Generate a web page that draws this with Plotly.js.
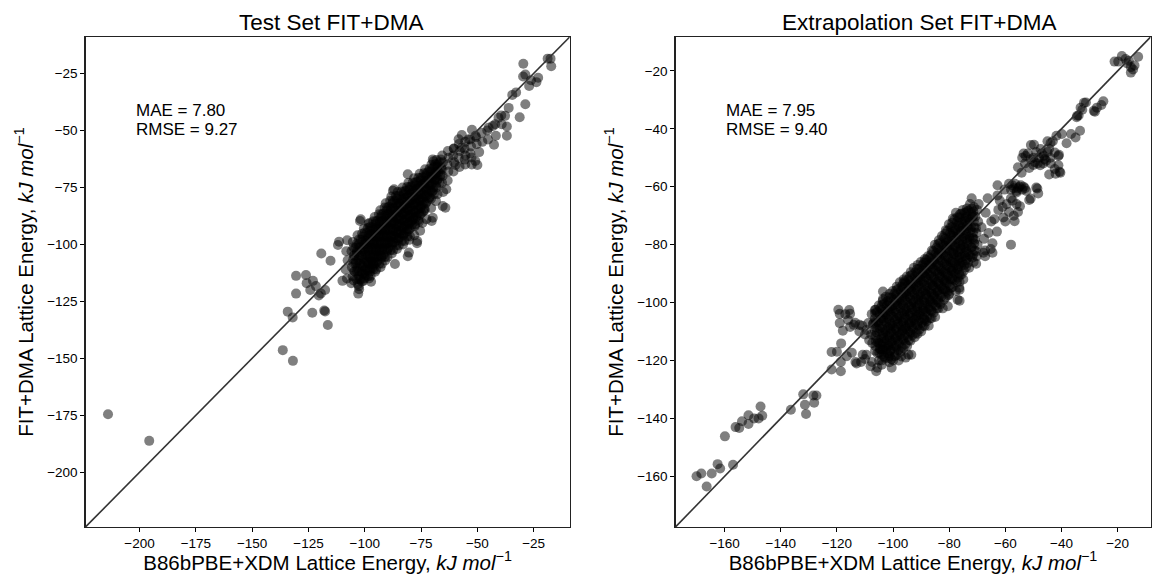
<!DOCTYPE html>
<html>
<head>
<meta charset="utf-8">
<script src="https://cdn.plot.ly/plotly-3.0.1.min.js"></script>
<style>html,body{margin:0;padding:0;background:#fff;}#chart{width:1156px;height:574px;}</style>
</head>
<body>
<div id="chart"></div>
<script>
// ---------------- data ----------------
const panelTitles = ["Test Set FIT+DMA", "Extrapolation Set FIT+DMA"];
const statsTest = ["MAE = 7.80", "RMSE = 9.27"];
const statsExtrap = ["MAE = 7.95", "RMSE = 9.40"];
const testTicks = [-200, -175, -150, -125, -100, -75, -50, -25];
const extrapTicks = [-160, -140, -120, -100, -80, -60, -40, -20];
const testRange = [-224, -9];
const extrapRange = [-177.5, -8.3];

// Test set: [B86bPBE+XDM, FIT+DMA] (kJ/mol)
const testPairs = [
[-214,-174.5],[-195.7,-186.2],[-136.4,-146.4],[-131.9,-151.1],[-134.2,-129.5],[-132,-132.1],[-130.5,-113.8],[-130.5,-121.6],
[-123.3,-130],[-118,-129],[-117.6,-129.4],[-116.4,-135.4],[-125.8,-117],[-124.2,-120],[-121.7,-118.3],[-120.4,-122.4],
[-117.6,-120],[-126.1,-113.4],[-123,-116],[-119.5,-121.5],[-119.3,-104],[-115.2,-107.2],[-111.9,-100.3],[-111.4,-98.8],
[-107.8,-98.2],[-102.1,-89.7],[-101.8,-89],[-98,-90.6],[-102.9,-121.6],[-102.5,-119.7],[-97.2,-116.4],[-109.9,-116],
[-96.4,-108.6],[-86.6,-108.6],[-80.9,-105.2],[-80.4,-103.6],[-76.8,-99.5],[-76.7,-98.5],[-74.4,-90.6],[-70.3,-89.7],
[-69.8,-88.3],[-65.4,-83.2],[-64.2,-83.9],[-63.8,-75.8],[-87.5,-76.5],[-87,-75.8],[-80.9,-69.2],[-69.5,-63.5],[-69.8,-62.7],
[-60.5,-57.9],[-59.7,-65.2],[-55.6,-62.8],[-55.4,-64.9],[-52.5,-64.9],[-52.6,-61.9],[-57,-57.6],[-53.9,-53.9],[-58.3,-53.9],
[-52.4,-49.7],[-50.8,-52.3],[-49.2,-59.5],[-50,-65.2],[-50.9,-63.4],[-42.6,-56.3],[-41.8,-52.3],[-36.9,-48.3],[-36.9,-52.3],
[-39.4,-43.4],[-39.2,-47.3],[-36.1,-40.1],[-37.7,-43.6],[-40.6,-44.4],[-42.1,-47.3],[-45,-48.8],[-56.9,-52],[-31.2,-44.2],
[-34.5,-34.4],[-32.8,-33.3],[-28.7,-38.5],[-29.6,-20.7],[-28.7,-25.5],[-26.2,-28],[-23.8,-28.8],[-23,-26.9],[-29.7,-26.3],
[-18.8,-18.5],[-17.2,-21.8],[-17.5,-18.5],[-27,-30.5],
[-108.2,-103],[-107.6,-107],[-108.5,-111],[-107.9,-115],
[-105.3,-99],[-105.9,-103],[-105.1,-106.5],[-105.7,-110],[-105.4,-114],[-106,-117],
[-103.2,-96],[-102.7,-100],[-103.5,-103],[-102.9,-107],[-103.3,-110.5],[-102.6,-114],[-103.1,-117.5],
[-100.4,-93],[-100.9,-96.5],[-100.2,-100],[-100.7,-103],[-100.3,-106.5],[-100.8,-110],[-100.1,-113],[-100.6,-116],
[-98.3,-91],[-97.7,-94],[-98.5,-97],[-97.9,-100],[-98.2,-103],[-97.6,-106],[-98.4,-109],[-97.8,-112],[-98.1,-115],
[-95.6,-88],[-95.2,-91],[-95.8,-94],[-95.3,-97],[-95.7,-100],[-95.1,-103],[-95.5,-106],[-95.9,-109],[-95.4,-112],
[-93.1,-85],[-92.8,-88],[-93.4,-91],[-92.7,-94],[-93.2,-97],[-92.9,-100],[-93.3,-103],[-92.6,-106],[-93,-110],
[-90.7,-82],[-90.2,-85],[-90.6,-88],[-90.3,-91],[-90.8,-94],[-90.4,-97],[-90.5,-100],[-90.1,-103],[-90.9,-107],
[-88.2,-79],[-87.7,-82],[-88.4,-85],[-87.9,-88],[-88.1,-91],[-87.6,-94],[-88.3,-97],[-87.8,-100],[-88,-104],
[-85.4,-77],[-85.8,-80],[-85.2,-83],[-85.6,-86],[-85.3,-89],[-85.9,-92],[-85.5,-95],[-85.1,-98],[-85.7,-102],
[-83.2,-75],[-82.7,-78],[-83.4,-81],[-82.9,-84],[-83.1,-87],[-82.6,-90],[-83.3,-93],[-82.8,-96],[-83,-100],
[-80.6,-73],[-80.2,-76],[-80.8,-79],[-80.4,-82],[-80.7,-85],[-80.1,-88],[-80.5,-91],[-80.9,-94],[-80.3,-98],
[-78.1,-71],[-77.7,-74],[-78.3,-77],[-77.9,-80],[-78.2,-83],[-77.6,-86],[-78.4,-89],[-77.8,-92],[-78,-96],
[-75.6,-69],[-75.2,-72],[-75.8,-75],[-75.3,-78],[-75.7,-81],[-75.1,-84],[-75.5,-87],[-75.9,-90],[-75.4,-94],
[-73.2,-67],[-72.8,-70],[-73.3,-73],[-72.7,-76],[-73.1,-79],[-72.9,-82],[-73.4,-85],[-72.6,-89],
[-70.4,-65],[-70.8,-68],[-70.3,-71],[-70.7,-74],[-70.2,-77],[-70.6,-80],[-70.5,-84],
[-68.2,-63],[-67.8,-66],[-68.3,-69],[-67.9,-72],[-68.1,-75],[-67.7,-78],[-68.4,-81],
[-65.6,-61],[-65.3,-64],[-65.8,-67],[-65.4,-70],[-65.7,-73],[-65.2,-77],
[-63.1,-59],[-62.8,-62],[-63.3,-65],[-62.9,-68],[-63.2,-72],
[-60.4,-58],[-60.7,-61],[-60.3,-64],[-60.6,-68],
[-58.2,-56],[-57.8,-59],[-58.3,-62],[-57.9,-66],
[-55.4,-55],[-55.7,-58],[-55.3,-61],
[-53.2,-54],[-52.8,-57],[-53.1,-60],
[-50.6,-53],[-50.3,-56],[-48.1,-51],[-47.8,-55],[-45.6,-50],[-45.3,-54],[-43.1,-48],
[-104.2,-101.5],[-104.5,-105],[-104.1,-108.5],[-104.4,-112],
[-101.7,-98],[-102,-101.5],[-101.6,-105],[-101.9,-108.5],[-101.5,-112],[-101.8,-115.5],
[-99.2,-95],[-99.5,-98.5],[-99.1,-101.5],[-99.4,-104.5],[-99,-107.5],[-99.3,-110.5],[-99.6,-113.5],
[-96.7,-92.5],[-96.9,-95.5],[-96.6,-98.5],[-96.8,-101.5],[-96.5,-104.5],[-96.9,-107.5],[-96.7,-110.5],
[-94.2,-89.5],[-94.4,-92.5],[-94.1,-95.5],[-94.5,-98.5],[-94.3,-101.5],[-94,-104.5],[-94.4,-107.5],
[-91.7,-86.5],[-91.9,-89.5],[-91.6,-92.5],[-91.8,-95.5],[-91.5,-98.5],[-91.9,-101.5],[-91.7,-104.5],
[-89.2,-83.5],[-89.4,-86.5],[-89.1,-89.5],[-89.5,-92.5],[-89.3,-95.5],[-89,-98.5],[-89.4,-101.5],
[-86.7,-81],[-86.9,-84],[-86.6,-87],[-86.8,-90],[-86.5,-93],[-86.9,-96],[-86.7,-99],
[-84.2,-79],[-84.4,-82],[-84.1,-85],[-84.5,-88],[-84.3,-91],[-84,-94],[-84.4,-97],
[-81.7,-76.5],[-81.9,-79.5],[-81.6,-82.5],[-81.8,-85.5],[-81.5,-88.5],[-81.9,-91.5],[-81.7,-94.5],
[-79.2,-74.5],[-79.4,-77.5],[-79.1,-80.5],[-79.5,-83.5],[-79.3,-86.5],[-79,-89.5],[-79.4,-92.5],
[-76.7,-72.5],[-76.9,-75.5],[-76.6,-78.5],[-76.8,-81.5],[-76.5,-84.5],[-76.9,-87.5],
[-74.2,-70.5],[-74.4,-73.5],[-74.1,-76.5],[-74.5,-79.5],[-74.3,-82.5],[-74,-85.5],
[-71.7,-68],[-71.9,-71],[-71.6,-74],[-71.8,-77],[-71.5,-80],
[-69.2,-66],[-69.4,-69],[-69.1,-72],[-69.5,-75],[-69.3,-78],
[-66.7,-64],[-66.9,-67],[-66.6,-70],[-66.8,-73],
[-103.7,-99.8],[-103.5,-103.8],[-103.8,-107.8],[-103.4,-111.8],[-103.6,-115.3],
[-101.2,-95.3],[-101,-98.8],[-101.3,-102.3],[-100.9,-105.8],[-101.2,-109.3],[-101,-112.8],[-101.3,-116.3],
[-98.7,-92.8],[-98.5,-96.3],[-98.8,-99.3],[-98.4,-102.3],[-98.7,-105.3],[-98.5,-108.3],[-98.8,-111.3],[-98.6,-114],
[-96.2,-89.8],[-96,-93.3],[-96.3,-96.3],[-95.9,-99.3],[-96.2,-102.3],[-96,-105.3],[-96.3,-108.3],[-96.1,-111],
[-93.7,-86.8],[-93.5,-90.3],[-93.8,-93.3],[-93.4,-96.3],[-93.7,-99.3],[-93.5,-102.3],[-93.8,-105.3],[-93.6,-108.5],
[-91.2,-83.8],[-91,-87.3],[-91.3,-90.3],[-90.9,-93.3],[-91.2,-96.3],[-91,-99.3],[-91.3,-102.3],[-91.1,-105.5],
[-88.7,-80.8],[-88.5,-84.3],[-88.8,-87.3],[-88.4,-90.3],[-88.7,-93.3],[-88.5,-96.3],[-88.8,-99.3],[-88.6,-102.5],
[-86.2,-78.8],[-86,-82.3],[-86.3,-85.3],[-85.9,-88.3],[-86.2,-91.3],[-86,-94.3],[-86.3,-97.3],[-86.1,-100.5],
[-83.7,-76.8],[-83.5,-80.3],[-83.8,-83.3],[-83.4,-86.3],[-83.7,-89.3],[-83.5,-92.3],[-83.8,-95.3],[-83.6,-98.5],
[-81.2,-74.8],[-81,-78.3],[-81.3,-81.3],[-80.9,-84.3],[-81.2,-87.3],[-81,-90.3],[-81.3,-93.3],[-81.1,-96.5],
[-78.7,-72.8],[-78.5,-76.3],[-78.8,-79.3],[-78.4,-82.3],[-78.7,-85.3],[-78.5,-88.3],[-78.8,-91.3],
[-76.2,-70.8],[-76,-74.3],[-76.3,-77.3],[-75.9,-80.3],[-76.2,-83.3],[-76,-86.3],[-76.3,-89.3],
[-73.7,-68.8],[-73.5,-72.3],[-73.8,-75.3],[-73.4,-78.3],[-73.7,-81.3],[-73.5,-84.3],
[-71.2,-66.8],[-71,-70.3],[-71.3,-73.3],[-70.9,-76.3],[-71.2,-79.3],
[-68.7,-64.8],[-68.5,-68.3],[-68.8,-71.3],[-68.4,-74.3],
[-66.2,-62.8],[-66,-66.3],[-66.3,-69.3],
[-105,-101.3],[-104.8,-104.8],[-105.1,-108.3],[-104.7,-111.8],[-104.9,-115.8],
[-102.5,-97.8],[-102.3,-101.3],[-102.6,-104.8],[-102.2,-108.3],[-102.5,-111.8],[-102.3,-115.3],[-102.6,-118.3],
[-100,-94.8],[-99.8,-98.3],[-100.1,-101.8],[-99.7,-104.8],[-100,-108.3],[-99.8,-111.5],[-100.1,-114.8],
[-97.5,-92.3],[-97.3,-95.8],[-97.6,-98.8],[-97.2,-101.8],[-97.5,-104.8],[-97.3,-107.8],[-97.6,-110.8],[-97.4,-113.8],
[-95,-89.8],[-94.8,-93.3],[-95.1,-96.3],[-94.7,-99.3],[-95,-102.3],[-94.8,-105.3],[-95.1,-108.3],[-94.9,-111],
[-92.5,-86.8],[-92.3,-90.3],[-92.6,-93.3],[-92.2,-96.3],[-92.5,-99.3],[-92.3,-102.3],[-92.6,-105.3],[-92.4,-108.5],
[-90,-83.8],[-89.8,-87.3],[-90.1,-90.3],[-89.7,-93.3],[-90,-96.3],[-89.8,-99.3],[-90.1,-102.3],[-89.9,-105.5],
[-87.5,-80.8],[-87.3,-84.3],[-87.6,-87.3],[-87.2,-90.3],[-87.5,-93.3],[-87.3,-96.3],[-87.6,-99.3],[-87.4,-102.5],
[-85,-78.8],[-84.8,-82.3],[-85.1,-85.3],[-84.7,-88.3],[-85,-91.3],[-84.8,-94.3],[-85.1,-97.3],[-84.9,-100.5],
[-82.5,-76.8],[-82.3,-80.3],[-82.6,-83.3],[-82.2,-86.3],[-82.5,-89.3],[-82.3,-92.3],[-82.6,-95.3],[-82.4,-98.5],
[-80,-74.8],[-79.8,-78.3],[-80.1,-81.3],[-79.7,-84.3],[-80,-87.3],[-79.8,-90.3],[-80.1,-93.3],[-79.9,-96.5],
[-77.5,-72.8],[-77.3,-76.3],[-77.6,-79.3],[-77.2,-82.3],[-77.5,-85.3],[-77.3,-88.3],[-77.6,-91.3],
[-75,-70.8],[-74.8,-74.3],[-75.1,-77.3],[-74.7,-80.3],[-75,-83.3],[-74.8,-86.3],
[-72.5,-68.8],[-72.3,-72.3],[-72.6,-75.3],[-72.2,-78.3],[-72.5,-81.3],
[-70,-66.8],[-69.8,-70.3],[-70.1,-73.3],[-69.7,-76.3],
[-67.5,-64.8],[-67.3,-68.3],[-67.6,-71.3]
];

// Extrapolation set: [B86bPBE+XDM, FIT+DMA] (kJ/mol)
const extrapPairs = [
[-170,-160],[-168.3,-159],[-166.4,-163.5],[-164.6,-159],[-162.5,-155.8],[-161.6,-157.3],[-159.9,-146.2],[-157,-156],
[-156.1,-143],[-154.8,-143.3],[-153.8,-141],[-151.5,-138.9],[-151.5,-141.9],[-149.5,-140],[-147.2,-135.9],[-146.6,-139.1],
[-147.9,-140],[-136.4,-137],[-132,-131.7],[-131.4,-135.3],[-131,-138.5],[-128.1,-134.6],[-127.3,-132.1],[-128.4,-132.1],
[-121.9,-117.1],[-121.9,-123.1],[-119,-103.9],[-119,-107.1],[-118.5,-114.1],[-118.6,-120.5],[-118.6,-123.7],[-115.6,-102.6],
[-115.3,-103.9],[-115.3,-108.4],[-117.9,-109.7],[-114.7,-117.3],[-113.4,-120.5],[-111.4,-120.5],[-110.8,-118],[-114,-107.7],
[-112,-107.7],[-109.5,-118],[-107.5,-120.5],[-106,-123.7],[-105.6,-122.5],[-104.9,-117.3],[-107,-107.1],[-108.8,-107.1],
[-106.5,-102.6],[-103.6,-96.2],[-103.6,-98.8],[-101.7,-119.3],[-101,-116.7],[-97.1,-118.6],[-94.5,-118],[-104.9,-114.1],
[-103.6,-116.1],[-119.5,-102.5],[-117,-104],[-116,-106],[-113.5,-107],[-111,-108],[-109.5,-109.5],[-110,-111],[-112,-110],
[-108.5,-113],[-120,-117],[-116.5,-118.5],[-113,-121],[-110,-119.5],[-108,-122],[-104,-121.5],[-100.5,-122.5],[-98,-120],
[-95.5,-119],[-93.5,-118],[-95.9,-92.6],[-88.2,-86.2],[-77,-99],[-76.4,-94.9],[-80.5,-101.3],[-80.2,-97.5],[-76.3,-95.6],
[-76.3,-99.4],[-58,-80],[-70.4,-86.6],[-67.2,-84],[-65.2,-81.5],[-64.6,-79.5],[-64.6,-82.8],[-67.8,-82.8],
[-72,-64],[-69.5,-66],[-67,-69],[-65,-72],[-68.5,-74],[-66,-76],[-63,-75.5],
[-63.9,-71.2],[-62,-64.8],[-60.7,-70.6],[-58.7,-68.7],[-56.7,-71.9],[-55.5,-68.7],[-54.8,-66.7],[-57.4,-64.8],
[-62.8,-59.5],[-62.8,-63],[-66.3,-64],[-61,-67],[-59.5,-66],[-58,-64],[-56,-66],[-62.5,-68],[-60,-72],[-57,-70],
[-58,-61],[-60.3,-61],[-58.7,-59],[-57,-60.5],[-56,-61.5],[-55,-60],[-54,-61],[-53,-60.5],[-57.5,-59.5],[-56.5,-59],
[-55.5,-60.5],[-54.5,-59.5],[-53.5,-60],[-56,-62],[-52.5,-61.5],[-51.5,-64.6],[-51,-64.1],[-49,-60.3],[-48.6,-60.6],[-48.3,-62.3],
[-54.2,-55.2],[-55.5,-53.3],[-52.8,-49.4],[-49.8,-45.5],[-50.9,-45.6],[-47.6,-52.6],[-46.3,-49.4],[-44.4,-46.9],
[-54,-50],[-53,-52],[-52,-48.5],[-51,-50.5],[-50,-52.5],[-49,-48],[-48,-50],[-47,-48.5],[-46,-50.5],[-45,-48],[-44,-50],
[-48.5,-52],[-46.5,-52],[-45.5,-51],[-47.5,-47],[-50,-50],[-49.5,-51.5],[-51.5,-53.5],[-53.5,-48.5],
[-42.4,-48.2],[-41.1,-49.4],[-40.9,-49],[-40.7,-54.8],[-42.1,-55.5],[-41.1,-52.6],[-43.8,-52],[-42.4,-53.9],[-40.4,-55.2],[-44.4,-55.8],
[-45,-44.3],[-43.9,-44.9],[-43.1,-44.3],[-41.8,-42.4],[-39.9,-41.8],[-38.2,-45],[-36.6,-41.8],[-35,-43],[-33.4,-40.7],
[-34.6,-36],[-33.9,-35.4],[-34.4,-35.5],[-33.2,-32.7],[-32,-31],[-32.6,-33.4],[-31.3,-30.9],[-28.1,-34.1],[-28.5,-33.8],[-27.4,-32.7],
[-25.8,-31.8],[-25.1,-30.5],[-21.1,-16.8],[-19.8,-16.8],[-18.5,-14.9],[-17.2,-15.9],[-16.6,-17.4],[-15.3,-18.7],
[-15.3,-20.6],[-14,-18.1],[-12.7,-15.1],[-16,-16.5],[-14.5,-19.5],
[-107.6,-104],[-107.2,-107.5],[-107.8,-111],[-107.4,-114],
[-105.1,-101],[-104.8,-104],[-105.3,-107],[-104.9,-110],[-105.2,-113],[-104.7,-116],[-105,-120],
[-102.6,-98],[-102.2,-101],[-102.8,-104],[-102.4,-107],[-102.7,-110],[-102.3,-113],[-102.5,-116],[-102.9,-119],
[-100.1,-96],[-99.7,-99],[-100.3,-102],[-99.9,-105],[-100.2,-108],[-99.8,-111],[-100.4,-114],[-99.6,-117],[-100,-120],
[-97.6,-93],[-97.2,-96],[-97.8,-99],[-97.4,-102],[-97.7,-105],[-97.1,-108],[-97.5,-111],[-97.9,-114],[-97.3,-117],
[-95.1,-91],[-94.7,-94],[-95.3,-97],[-94.9,-100],[-95.2,-103],[-94.6,-106],[-95.4,-109],[-94.8,-112],[-95,-115],
[-92.6,-88],[-92.2,-91],[-92.8,-94],[-92.4,-97],[-92.7,-100],[-92.1,-103],[-92.5,-106],[-92.9,-109],[-92.3,-112],
[-90.1,-86],[-89.7,-89],[-90.3,-92],[-89.9,-95],[-90.2,-98],[-89.6,-101],[-90.4,-104],[-89.8,-107],[-90,-110],
[-87.6,-84],[-87.2,-87],[-87.8,-90],[-87.4,-93],[-87.7,-96],[-87.1,-99],[-87.5,-102],[-87.9,-105],[-87.3,-108],
[-85.1,-80],[-84.7,-83],[-85.3,-86],[-84.9,-89],[-85.2,-92],[-84.6,-95],[-85.4,-98],[-84.8,-101],[-85,-105],
[-82.6,-77],[-82.2,-80],[-82.8,-83],[-82.4,-86],[-82.7,-89],[-82.1,-92],[-82.5,-95],[-82.9,-98],[-82.3,-102],
[-80.1,-73],[-79.7,-76],[-80.3,-79],[-79.9,-82],[-80.2,-85],[-79.6,-88],[-80.4,-91],[-79.8,-94],[-80,-97],
[-77.6,-69],[-77.2,-72],[-77.8,-75],[-77.4,-78],[-77.7,-81],[-77.1,-84],[-77.5,-87],[-77.9,-90],[-77.3,-93],[-77.6,-96],
[-75.1,-68],[-74.7,-71],[-75.3,-74],[-74.9,-77],[-75.2,-80],[-74.6,-83],[-75.4,-86],[-74.8,-89],[-75,-92],
[-72.6,-66],[-72.2,-69],[-72.8,-72],[-72.4,-75],[-72.7,-78],[-72.1,-81],[-72.5,-84],[-72.9,-88],
[-70.1,-68],[-69.7,-72],[-70.3,-76],[-69.9,-80],[-70.2,-84],[-67.6,-78],[-67.2,-82],
[-106.2,-102.5],[-106.5,-105.5],[-106.1,-108.5],[-106.4,-111.5],[-106.3,-115],
[-103.7,-99.5],[-104,-102.5],[-103.6,-105.5],[-103.9,-108.5],[-103.5,-111.5],[-103.8,-114.5],[-104.1,-118],
[-101.2,-97],[-101.5,-100],[-101.1,-103],[-101.4,-106],[-101,-109],[-101.3,-112],[-101.6,-115],[-101.2,-118.5],
[-98.7,-94.5],[-99,-97.5],[-98.6,-100.5],[-98.9,-103.5],[-98.5,-106.5],[-98.8,-109.5],[-99.1,-112.5],[-98.7,-115.5],
[-96.2,-92],[-96.5,-95],[-96.1,-98],[-96.4,-101],[-96,-104],[-96.3,-107],[-96.6,-110],[-96.2,-113],
[-93.7,-89.5],[-94,-92.5],[-93.6,-95.5],[-93.9,-98.5],[-93.5,-101.5],[-93.8,-104.5],[-94.1,-107.5],[-93.7,-110.5],
[-91.2,-87],[-91.5,-90],[-91.1,-93],[-91.4,-96],[-91,-99],[-91.3,-102],[-91.6,-105],[-91.2,-108],
[-88.7,-85],[-89,-88],[-88.6,-91],[-88.9,-94],[-88.5,-97],[-88.8,-100],[-89.1,-103],[-88.7,-106],
[-86.2,-82],[-86.5,-85],[-86.1,-88],[-86.4,-91],[-86,-94],[-86.3,-97],[-86.6,-100],[-86.2,-103],
[-83.7,-78.5],[-84,-81.5],[-83.6,-84.5],[-83.9,-87.5],[-83.5,-90.5],[-83.8,-93.5],[-84.1,-96.5],[-83.7,-100],
[-81.2,-75],[-81.5,-78],[-81.1,-81],[-81.4,-84],[-81,-87],[-81.3,-90],[-81.6,-93],[-81.2,-96],
[-78.7,-71],[-79,-74],[-78.6,-77],[-78.9,-80],[-78.5,-83],[-78.8,-86],[-79.1,-89],[-78.7,-92],
[-76.2,-69.5],[-76.5,-72.5],[-76.1,-75.5],[-76.4,-78.5],[-76,-81.5],[-76.3,-84.5],[-76.6,-87.5],[-76.2,-90.5],
[-73.7,-67.5],[-74,-70.5],[-73.6,-73.5],[-73.9,-76.5],[-73.5,-79.5],[-73.8,-82.5],[-74.1,-85.5],
[-71.2,-67],[-71.5,-70],[-71.1,-74],[-71.4,-78],[-71,-82],[-71.3,-86],
[-104.5,-102],[-104.3,-105.5],[-104.6,-109],[-104.2,-112.5],[-104.5,-116],
[-102,-99.5],[-101.8,-102.5],[-102.1,-105.5],[-101.7,-108.5],[-102,-111.5],[-101.8,-114.5],[-102.1,-117.5],
[-99.5,-97],[-99.3,-100],[-99.6,-103],[-99.2,-106],[-99.5,-109],[-99.3,-112],[-99.6,-115],[-99.4,-118.5],
[-97,-94.5],[-96.8,-97.5],[-97.1,-100.5],[-96.7,-103.5],[-97,-106.5],[-96.8,-109.5],[-97.1,-112.5],[-96.9,-115.5],
[-94.5,-92],[-94.3,-95],[-94.6,-98],[-94.2,-101],[-94.5,-104],[-94.3,-107],[-94.6,-110],[-94.4,-113],
[-92,-89.5],[-91.8,-92.5],[-92.1,-95.5],[-91.7,-98.5],[-92,-101.5],[-91.8,-104.5],[-92.1,-107.5],[-91.9,-110.5],
[-89.5,-87],[-89.3,-90],[-89.6,-93],[-89.2,-96],[-89.5,-99],[-89.3,-102],[-89.6,-105],[-89.4,-108],
[-87,-84.5],[-86.8,-87.5],[-87.1,-90.5],[-86.7,-93.5],[-87,-96.5],[-86.8,-99.5],[-87.1,-102.5],[-86.9,-105.5],
[-84.5,-81],[-84.3,-84],[-84.6,-87],[-84.2,-90],[-84.5,-93],[-84.3,-96],[-84.6,-99],[-84.4,-102],
[-82,-77.5],[-81.8,-80.5],[-82.1,-83.5],[-81.7,-86.5],[-82,-89.5],[-81.8,-92.5],[-82.1,-95.5],[-81.9,-99],
[-79.5,-74],[-79.3,-77],[-79.6,-80],[-79.2,-83],[-79.5,-86],[-79.3,-89],[-79.6,-92],[-79.4,-95],
[-77,-70.5],[-76.8,-73.5],[-77.1,-76.5],[-76.7,-79.5],[-77,-82.5],[-76.8,-85.5],[-77.1,-88.5],[-76.9,-91.5],
[-74.5,-69],[-74.3,-72],[-74.6,-75],[-74.2,-78],[-74.5,-81],[-74.3,-84],[-74.6,-87],
[-72,-67.5],[-71.8,-70.5],[-72.1,-74],[-71.7,-77.5],[-72,-81],[-71.8,-84.5],
[-105.7,-103.3],[-105.5,-106.8],[-105.8,-110.3],[-105.4,-113.8],[-105.6,-117.5],
[-103.2,-100.3],[-103,-103.3],[-103.3,-106.3],[-102.9,-109.3],[-103.2,-112.3],[-103,-115.3],[-103.3,-118.5],
[-100.7,-98.3],[-100.5,-101.3],[-100.8,-104.3],[-100.4,-107.3],[-100.7,-110.3],[-100.5,-113.3],[-100.8,-116.3],[-100.6,-119.5],
[-98.2,-95.3],[-98,-98.3],[-98.3,-101.3],[-97.9,-104.3],[-98.2,-107.3],[-98,-110.3],[-98.3,-113.3],[-98.1,-116.5],
[-95.7,-93.3],[-95.5,-96.3],[-95.8,-99.3],[-95.4,-102.3],[-95.7,-105.3],[-95.5,-108.3],[-95.8,-111.3],[-95.6,-114.3],
[-93.2,-90.3],[-93,-93.3],[-93.3,-96.3],[-92.9,-99.3],[-93.2,-102.3],[-93,-105.3],[-93.3,-108.3],[-93.1,-111.3],
[-90.7,-88.3],[-90.5,-91.3],[-90.8,-94.3],[-90.4,-97.3],[-90.7,-100.3],[-90.5,-103.3],[-90.8,-106.3],[-90.6,-109.3],
[-88.2,-85.3],[-88,-88.3],[-88.3,-91.3],[-87.9,-94.3],[-88.2,-97.3],[-88,-100.3],[-88.3,-103.3],[-88.1,-106.5],
[-85.7,-82.3],[-85.5,-85.3],[-85.8,-88.3],[-85.4,-91.3],[-85.7,-94.3],[-85.5,-97.3],[-85.8,-100.3],[-85.6,-103.5],
[-83.2,-79.3],[-83,-82.3],[-83.3,-85.3],[-82.9,-88.3],[-83.2,-91.3],[-83,-94.3],[-83.3,-97.3],[-83.1,-100.5],
[-80.7,-75.3],[-80.5,-78.3],[-80.8,-81.3],[-80.4,-84.3],[-80.7,-87.3],[-80.5,-90.3],[-80.8,-93.3],[-80.6,-96.3],
[-78.2,-71.3],[-78,-74.3],[-78.3,-77.3],[-77.9,-80.3],[-78.2,-83.3],[-78,-86.3],[-78.3,-89.3],[-78.1,-92.3],
[-75.7,-69.3],[-75.5,-72.3],[-75.8,-75.3],[-75.4,-78.3],[-75.7,-81.3],[-75.5,-84.3],[-75.8,-87.3],[-75.6,-90.3],
[-73.2,-68.3],[-73,-71.3],[-73.3,-74.3],[-72.9,-77.3],[-73.2,-80.3],[-73,-83.3],[-73.3,-86.3],
[-70.7,-70.3],[-70.5,-74.3],[-70.8,-78.3],[-70.4,-82.3],
[-106.4,-103.8],[-106.2,-107],[-106.5,-110.2],[-106.1,-113.4],[-106.4,-116.6],
[-103.9,-100.8],[-103.7,-104],[-104,-107.2],[-103.6,-110.4],[-103.9,-113.6],[-103.7,-116.8],[-104,-120],
[-101.4,-98.2],[-101.2,-101.4],[-101.5,-104.6],[-101.1,-107.8],[-101.4,-111],[-101.2,-114.2],[-101.5,-117.4],[-101.3,-120.6],
[-98.9,-95.8],[-98.7,-99],[-99,-102.2],[-98.6,-105.4],[-98.9,-108.6],[-98.7,-111.8],[-99,-115],[-98.8,-118.2],
[-96.4,-93.4],[-96.2,-96.6],[-96.5,-99.8],[-96.1,-103],[-96.4,-106.2],[-96.2,-109.4],[-96.5,-112.6],[-96.3,-115.8],
[-93.9,-90.8],[-93.7,-94],[-94,-97.2],[-93.6,-100.4],[-93.9,-103.6],[-93.7,-106.8],[-94,-110],[-93.8,-113.2],
[-91.4,-88.4],[-91.2,-91.6],[-91.5,-94.8],[-91.1,-98],[-91.4,-101.2],[-91.2,-104.4],[-91.5,-107.6],[-91.3,-110.8],
[-88.9,-86.2],[-88.7,-89.4],[-89,-92.6],[-88.6,-95.8],[-88.9,-99],[-88.7,-102.2],[-89,-105.4],[-88.8,-108.2],
[-86.4,-83.4],[-86.2,-86.6],[-86.5,-89.8],[-86.1,-93],[-86.4,-96.2],[-86.2,-99.4],[-86.5,-102.6],[-86.3,-105.4],
[-83.9,-79.8],[-83.7,-83],[-84,-86.2],[-83.6,-89.4],[-83.9,-92.6],[-83.7,-95.8],[-84,-99],[-83.8,-102],
[-81.4,-76.2],[-81.2,-79.4],[-81.5,-82.6],[-81.1,-85.8],[-81.4,-89],[-81.2,-92.2],[-81.5,-95.4],[-81.3,-98.2],
[-78.9,-72.4],[-78.7,-75.6],[-79,-78.8],[-78.6,-82],[-78.9,-85.2],[-78.7,-88.4],[-79,-91.6],[-78.8,-94.6],
[-76.4,-70.6],[-76.2,-73.8],[-76.5,-77],[-76.1,-80.2],[-76.4,-83.4],[-76.2,-86.6],[-76.5,-89.8],[-76.3,-92.8],
[-73.9,-68.8],[-73.7,-72],[-74,-75.2],[-73.6,-78.4],[-73.9,-81.6],[-73.7,-84.8],[-74,-87.8],
[-71.4,-68.6],[-71.2,-72],[-71.5,-75.8],[-71.1,-79.6],[-71.4,-83.4]
];

// ---------------- chart ----------------
const FONT = '"Liberation Sans", Arial, Helvetica, sans-serif';
const W = 1156, H = 574;
const px = v => v / W;
const py = v => 1 - v / H;

const markerStyle = {size: 10, color: 'rgba(0,0,0,0.5)', line: {width: 0}};

const traces = [
  {type: 'scatter', mode: 'markers', x: testPairs.map(p => p[0]), y: testPairs.map(p => p[1]),
   marker: markerStyle, xaxis: 'x', yaxis: 'y', hoverinfo: 'x+y', showlegend: false},
  {type: 'scatter', mode: 'markers', x: extrapPairs.map(p => p[0]), y: extrapPairs.map(p => p[1]),
   marker: markerStyle, xaxis: 'x2', yaxis: 'y2', hoverinfo: 'x+y', showlegend: false}
];

const xTitle = 'B86bPBE+XDM Lattice Energy, <i>kJ mol</i><sup>−1</sup>';
const yTitle = 'FIT+DMA Lattice Energy, <i>kJ mol</i><sup>−1</sup>';

function axis(domain, anchor, range, ticks, title, standoff) {
  return {
    domain: domain, anchor: anchor, range: range, autorange: false,
    tickmode: 'array', tickvals: ticks, ticks: 'outside', ticklen: 4, tickwidth: 1, tickcolor: '#000',
    showgrid: false, zeroline: false, showline: true, mirror: true, linecolor: '#222', linewidth: 1.2,
    tickfont: {family: FONT, size: 13.5, color: '#000'},
    title: {text: title, font: {family: FONT, size: 20.5, color: '#000'}, standoff: standoff},
    automargin: false
  };
}

const lDom = [px(85.5), px(569.7)];
const rDom = [px(675.5), px(1150.5)];
const yDom = [py(527), py(37)];

const layout = {
  width: W, height: H,
  margin: {l: 0, r: 0, t: 0, b: 0},
  paper_bgcolor: '#fff', plot_bgcolor: '#fff',
  showlegend: false,
  xaxis: axis(lDom, 'y', testRange, testTicks, xTitle, 2),
  yaxis: axis(yDom, 'x', testRange, testTicks, yTitle, 8),
  xaxis2: axis(rDom, 'y2', extrapRange, extrapTicks, xTitle, 2),
  yaxis2: axis(yDom, 'x2', extrapRange, extrapTicks, yTitle, 8),
  shapes: [
    {type: 'line', xref: 'x', yref: 'y', x0: testRange[0], y0: testRange[0], x1: testRange[1], y1: testRange[1],
     line: {color: '#333', width: 1.6}},
    {type: 'line', xref: 'x2', yref: 'y2', x0: extrapRange[0], y0: extrapRange[0], x1: extrapRange[1], y1: extrapRange[1],
     line: {color: '#333', width: 1.6}}
  ],
  annotations: [
    {text: panelTitles[0], xref: 'paper', yref: 'paper', x: px(331), y: py(22),
     xanchor: 'center', yanchor: 'middle', showarrow: false, font: {family: FONT, size: 22.5, color: '#000'}},
    {text: panelTitles[1], xref: 'paper', yref: 'paper', x: px(919), y: py(22),
     xanchor: 'center', yanchor: 'middle', showarrow: false, font: {family: FONT, size: 22.5, color: '#000'}},
    {text: statsTest[0], xref: 'paper', yref: 'paper', x: px(134), y: py(111), xanchor: 'left', yanchor: 'middle',
     showarrow: false, font: {family: FONT, size: 17, color: '#000'}},
    {text: statsTest[1], xref: 'paper', yref: 'paper', x: px(134), y: py(129.5), xanchor: 'left', yanchor: 'middle',
     showarrow: false, font: {family: FONT, size: 17, color: '#000'}},
    {text: statsExtrap[0], xref: 'paper', yref: 'paper', x: px(724), y: py(111), xanchor: 'left', yanchor: 'middle',
     showarrow: false, font: {family: FONT, size: 17, color: '#000'}},
    {text: statsExtrap[1], xref: 'paper', yref: 'paper', x: px(724), y: py(129.5), xanchor: 'left', yanchor: 'middle',
     showarrow: false, font: {family: FONT, size: 17, color: '#000'}}
  ]
};

Plotly.newPlot('chart', traces, layout, {displayModeBar: false, staticPlot: true});
</script>
</body>
</html>
